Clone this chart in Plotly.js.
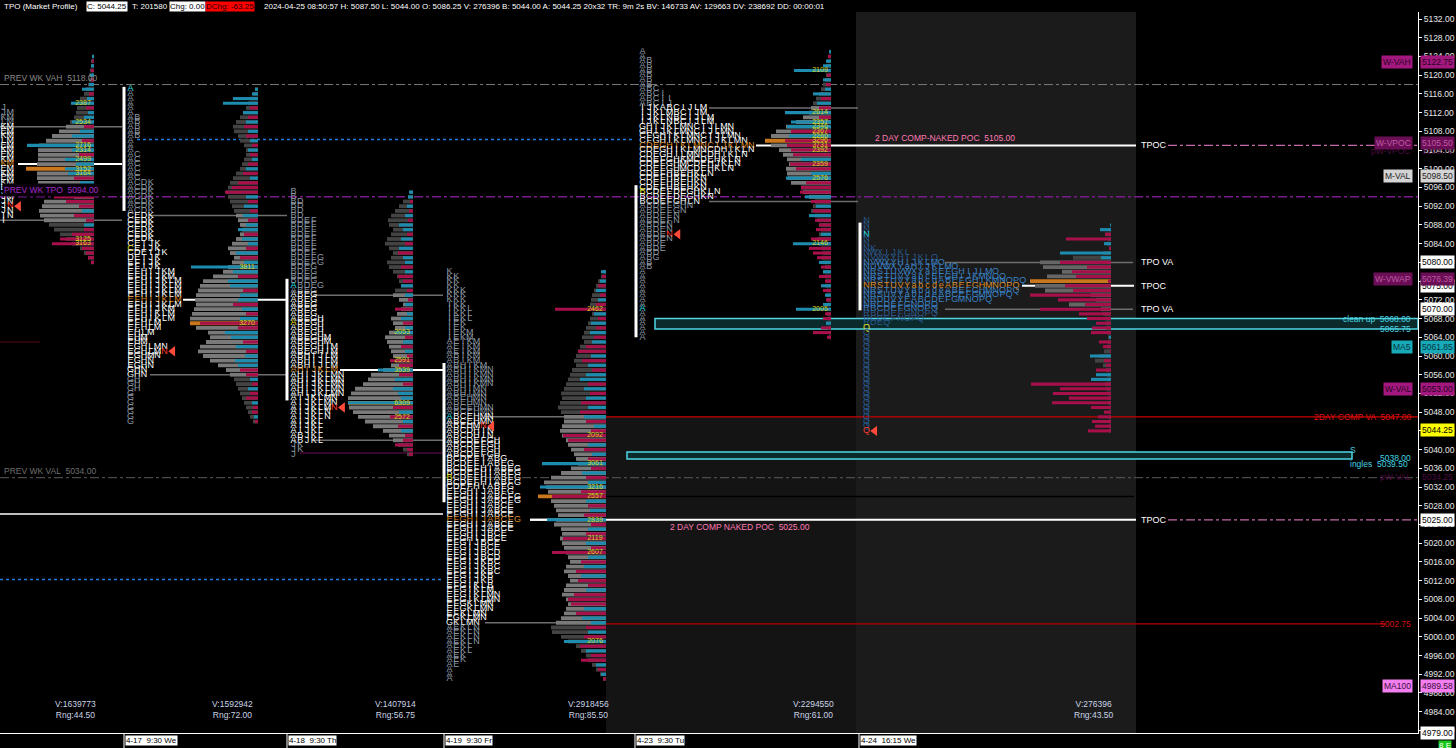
<!DOCTYPE html>
<html><head><meta charset="utf-8">
<script src="https://cdn.plot.ly/plotly-3.0.1.min.js"></script>
<style>html,body{margin:0;padding:0;background:#000;overflow:hidden}#chart{width:1456px;height:748px}</style>
</head><body><div id="chart"></div>
<script>
// ---------------- DATA ----------------
const dayNames   = ['4-16','4-17','4-18','4-19','4-23','4-24'];
const dayLabels  = ['4-17  9:30 We','4-18  9:30 Th','4-19  9:30 Fr','4-23  9:30 Tu','4-24  16:15 We'];
const dayVolume  = [1639773,1592942,1407914,2918456,2294550,276396];
const dayRange   = [44.50,72.00,56.75,85.50,61.00,43.50];

const tpoTop  = [5113,5117,5095,5078,5125,5089];
const vaHigh  = [5109,5090,5073,5047,5113,5080];
const vaLow   = [5089,5056,5042,5003,5093,5070];
const tpoPoc  = [5101,5072,5057,5025,5105,5075];
const ibHigh  = [null,5117.5,5076.5,5058.5,5096.5,5088.5];
const ibLow   = [null,5091,5050.5,5028.75,5064,5069.75];
const closePx = [5092,5061,5049,5045,5086,5044];

// 4-16: only the right-hand tail of each row is inside the chart
const tpo0 = ['J','JM','KM','LM','KM','EM','KM','LM','EM','KM','EM','KM','KM','EM','KM','EM','KM','EM','JM','JM','JN','JN','JN','IN','I'];
const tpo1 = ['A','A','A','A','A','A','AB','AB','AB','AB','AB','A','A','A','AC','AC','AC','AC','AC','AC','ACDK','ACDK','ACDK','ACDK','ACDK','ACDK','ACDK',
 'CEDK','CEDK','CEDK','CEDK','CEDK','CEDK','CEIJK','CEIJK','CDEIJK','DEIJK','EFIJK','EFIJK','EFHIJKM','EFHIJKM','EFHIJKLM','EFHIJKLM','EFHIJKLM','EFHIJKLM','EFHIJKLM','EFHIJKLM','EFHIJKM','EFHIKLM','EFHIKLM','EFHLM','EFHLM','EHLM','EHM','EHM','EGHLMN','EGHLMN','EGHMN','EGHN','EGHN','GHN','GHN','GH','GH','GH','G','G','G','G','G','G','G'];
const tpo2 = ['B','B','BD','BD','BD','BD','BDEF','BDEF','BDEF','BDEF','BDEF','BDEF','BDEF','BDEF','BDEFG','BDEFG','BDEG','BDEG','BDEG','BDEG','ABDEG','ABEG','ABEG','ABEG','ABEG','ABEG','ABEG','ABEGH','ABEGH','ABEGH','ABEGH','ABEGHM','ABEGHM','ABEGHIM','ABEGHIM','ABHIJLM','ABHIJLM','ABHIJLM','AHIJKLM','AHIJKLMN','AHIJKLMN','AHIJKLMN','AHIJKLMN','AHIJKLMN','AIJKLMN','AIJKLMN','AIJKLMN','AIJKLN','AIJKLN','AIJKL','AIJKL','AIJKL','ABJKL','ABJKL','JK','JK','J'];
const tpo3 = ['K','KK','KK','KK','KKK','KKK','KKK','IKK','IKKL','IKKL','IEKL','IEK','IEK','IEKM','IEKM','AEIKM','AEIKM','AEIKM','ABIKM','ABIKM','ABHIKM','ABHIKMN','ABHIKMN','ABHIKMN','ABHIKMN','ABHIMN','ABHIMN','ABEHMN','ABEHMN','ABCEHMN','ABCEHMN','ABCEHMN','ABCEHMN','ABEHMN','ABCDHIN','ABCDHIN','ABCDEFGH','ABCDEFGH','ABCDEFGH','ABCDEFGH',
 'BCDEFIABG','BCDEFIABEG','BCDEFHIABEG','BCDEFHIABEG','BCDEFHIABFG','BCDEFHIABFG','CDEFHIABFG','EFGHIJABFG','EFGHIJABCFG','EFGHIJABCFG','EFGHIJABCE','EFGHIJABCE','EFGHIJABCE','EFGHIJABCFG','EFGHIJABCE','EFGHIJABCE','EFGHIJBCE','EFGHIJBCE','EFGIJBCE','EFGIJBCE','EFGIJBCD','EFGIJBCD','EFGIJKBC','EFGIJKBC','EFGIJKBC','EFGIJKB','EFGIJKB','EFGIKLB','EFGIKLM','EFGIKLMN','EFGIKLMN','EFGKLMN','EFGKLMN','EFKLMN','EGKLMN','GKLMN',
 'AEKLN','AEKLN','AEKLN','AEKLN','AEKL','AEKL','AEK','AEK','AE','A','A','A'];
const tpo4 = ['A','A','AB','AB','AB','AB','AB','AB','ABC','ABCI','ABCII','ABCIJ','IJKABCIJLM','IJKLMBCIJM','IJKLNBCIJLM','IJKLNBCIJLM','GHIJKLMNCIJLMN','GHIJKLMNCIJLMN','CFGHIKLMNCIJLMN','CFGHIKLMNCIJKLMN','CDEGHIKLMNCIJKLMN','CDEGHIKLMNCDHIKLN','CDEGHILMNCDHIKLN','CDEFGHKMCDEHKLN','CDEFGHMCDEHJKLN','CDEFGHMCDEHKLN','CDEFHBEHKLN','CDEFHBEHKN','CDEFHBEHKN','CDEFHBEHKN','BCDEFDEGHKLN','BCDEFDEGHKN',
 'BCDEFGHLN','ABDEFGHN','ABDEFGN','ABDEFN','ABDEFN','ABDEN','ABDEN','ABDEN','ABDEN','ABDE','ABDE','ABD','ABG','AB','AB',
 'A','A','A','A','A','A','A','A','A','A','A','A','A','A','A'];
const tpo5 = ['N','N','N','N','N','N','NK','NWXIJKL','NVWXYHIJKLO','NVWXYHIJKLMO','NUVWXYaHIJKLMO','NRSTUVWXYabEFGHIJLMO','NRSTUVYabcEFGHIJKMNOQ','NRSTUVYabcdABEFGHIKMNOPQ','NRSTUVYabcdeABEFGHMNOPQ','NRSTUVYabcdeABEFGHMNOPQ','NRSUVYabcdeABCEFGMNOPQ','NRDUVYEABCDEFGMNOPQ','NRCDEFGNOPQ','RBCDEFGNOPQ','RBCDEFGNOPQ','RCDEFNOPQ','RDEQ','Q',
 'Q','Q','Q','Q','Q','Q','Q','Q','Q','Q','Q','Q','Q','Q','Q','Q','Q','Q','Q','Q','Q','Q'];
const tpoRows = [tpo0,tpo1,tpo2,tpo3,tpo4,tpo5];
// special letters: [day, price, column, kind]
const tpoMarks = [[0,5092,1,'close'],[1,5117,0,'open'],[1,5083,0,'ib'],[1,5061,5,'close'],[2,5075,0,'open'],[2,5067,0,'ib'],[2,5049,6,'close'],[3,5047,0,'open'],[3,5034,0,'ib'],[3,5045,5,'close'],[4,5070,0,'open'],[4,5095,0,'ib'],[4,5086,4,'close'],[5,5086,0,'open'],[5,5066,0,'ib'],[5,5044,0,'close']];

const volTop = [5124,5117,5095,5078,5125,5088];
const volPoc = [5100,5067,5050,5030,5106,5076];
const volTotal0 = [2,3,3,4,5,5,6,8,10,14,15,17,18,20,24,28,35,42,48,55,56,56,56,57,68,57,57,56,55,50,20,50,52,55,54,50,45,40,34,28,22,14,10,6,3];
const volDelta0 = [2,-2,3,-3,4,-3,5,12,-5,7,23,-8,6,10,22,-10,14,22,-12,67,22,-15,29,18,29,26,-20,14,-18,-25,-40,-28,-15,12,-20,-8,10,-10,-22,-34,-42,-12,-8,-6,-3];
const volTotal1 = [3,5,8,10,12,15,18,22,25,24,20,18,14,12,12,14,16,18,22,25,28,30,32,30,28,26,24,22,20,18,16,18,22,26,30,28,24,26,30,35,45,55,58,60,62,63,62,64,66,68,68,62,50,48,52,58,60,55,48,40,32,28,24,22,20,18,16,14,12,10,8,5];
const volDelta1 = [3,6,25,35,-8,15,-10,12,-14,10,-12,8,-6,10,-8,6,-10,12,-15,8,-20,-26,-33,12,-10,14,-8,15,-10,12,20,-14,16,10,-12,22,-18,14,67,25,-20,30,28,-15,18,20,-25,16,-12,18,-58,-20,33,27,-15,22,-12,13,23,20,-18,-12,8,-6,10,-8,-12,6,-5,-6,4,-3];
const volTotal2 = [3,5,10,14,18,22,25,24,20,22,26,28,24,20,22,26,24,20,16,14,12,18,20,14,10,12,16,22,20,18,24,28,26,24,22,20,18,22,30,42,45,50,58,62,65,65,64,60,55,48,40,30,24,20,15,10,6];
const volDelta2 = [4,5,-3,6,-4,8,-5,14,10,-6,12,-8,14,-15,10,8,-12,8,-15,-10,12,-6,8,-5,8,-18,6,12,-10,8,18,-8,10,-12,8,-6,-23,-14,35,-14,18,-10,20,15,12,65,-20,14,-23,10,-15,12,-8,-10,-18,-6,-4];
const volTotal3 = [3,5,8,10,12,14,15,16,15,14,16,18,20,22,24,22,26,28,30,32,30,34,36,38,40,42,45,44,46,48,45,42,42,44,46,44,40,38,35,32,30,28,35,45,55,62,60,58,68,55,52,50,48,50,52,45,44,46,44,42,40,38,36,40,42,38,36,40,42,44,40,38,40,42,45,50,55,54,45,38,30,25,20,18,14,10,6,3];
const volDelta3 = [5,-4,6,-8,10,-6,8,-10,-51,12,-8,15,-10,16,-12,14,-20,-28,15,-24,18,-14,20,26,-18,22,-16,20,-25,18,-26,22,-20,12,-15,-43,-38,18,-22,14,-18,64,-15,24,-20,18,66,-25,-54,20,-18,16,-22,59,-15,18,-20,-43,20,-15,-54,18,-25,22,-30,25,-28,-18,20,-32,-38,-35,22,-30,24,15,-20,18,-22,42,-26,20,-15,-25,10,-8,5,-3];
const volTotal4 = [2,3,4,5,6,5,6,8,10,12,15,18,20,22,28,35,45,55,60,66,60,52,48,44,42,45,44,43,40,30,28,22,16,18,20,16,14,12,10,12,14,12,10,8,10,8,6,8,6,5,6,4,5,4,4,3,4,3,5,3,2,2];
const volDelta4 = [2,-3,5,8,37,-4,8,-5,6,18,-10,14,-12,46,-12,40,44,-40,42,-46,-44,-40,-38,30,-41,-35,20,45,-25,-30,-31,26,-20,15,-18,22,-16,-12,-15,10,-20,38,-22,-18,-14,12,-10,8,-12,-6,10,-8,6,-5,8,35,-6,-8,5,-10,-18,-4];
const volTotal5 = [0,2,6,3,4,2,8,38,71,68,49,64,81,76,66,20,15,42,10,8,6,5,5,4,3,3,4,7,12,16,8,5,4,4,6,5,4,3,3,2,2,2,2,2,2];
const volDelta5 = [1,11,-6,-45,7,-2,51,10,-51,-24,-39,-35,-3,-46,-38,-81,-53,-26,-71,-32,-24,-15,-19,-20,2,-12,-8,-1,21,-7,-5,-15,15,20,-80,-51,-58,-42,-59,-20,-7,-13,-19,-16,-23];
const volTotals = [volTotal0,volTotal1,volTotal2,volTotal3,volTotal4,volTotal5];
const volDeltas = [volDelta0,volDelta1,volDelta2,volDelta3,volDelta4,volDelta5];

// yellow volume notes: day, price, label
const noteDay   = [0,0,0,0,0,0,0,0,0, 1,1, 2,2,2,2,2, 3,3,3,3,3,3,3,3,3, 4,4,4,4,4,4,4,4,4,4,4,4,4];
const notePrice = [5114,5110,5105,5104,5102,5100,5099,5085,5084, 5079,5067, 5065,5059,5057,5050,5047, 5070,5043,5037,5032,5030,5025,5021,5018,4999, 5121,5112,5110,5109,5108,5107,5106,5105,5104,5101,5098,5084,5070];
const noteText  = ['2387','2534','2716','2314','2499','3152','3164','3125','3163','3811','3270','2053','2591','3539','6309','2572','2462','2092','3061','3216','2557','2839','2119','2607','2076','2109','2614','2357','2346','2367','2260','3296','3731','2392','2359','2576','2146','2005'];

// reference levels
const prevWkVah = 5118.00, prevWkTpo = 5094.00, prevWkVal = 5034.00;
const comp2Va = 5047.00, comp2Low = 5002.75;
const nakedPocHi = 5105.00, nakedPocLo = 5025.00, oldPoc = 5026.25;
const blueLevels = [5106.25, 5012.25];
const cleanUpHi = 5068.00, cleanUpLo = 5065.75;
const singlesHi = 5039.50, singlesLo = 5038.00;
const tagText  = ['W-VAH','W-VPOC','M-VAL','W-VWAP','MA5','W-VAL','MA100'];
const tagPrice = [5122.75,5105.50,5098.50,5076.39,5061.85,5053.00,4989.58];
const boxPrice = [5080.00,5075.00,5070.00,5025.00];
const lastPrice = 5044.25, axisLow = 4979.00;
const faintText = ['pW-VPOC','pW-VAL'];
const faintPrice = [5103.75,5034.25];
const headerParts = ['TPO (Market Profile)','C: 5044.25','T: 201580','Chg: 0.00','DChg: -63.25',
  '2024-04-25 08:50:57 H: 5087.50 L: 5044.00 O: 5086.25 V: 276396 B: 5044.00 A: 5044.25 20x32 TR: 9m 2s BV: 146733 AV: 129663 DV: 238692 DD: 00:00:01'];

// ---------------- LAYOUT / STYLE ----------------
const FONT = "'Liberation Sans',Arial,sans-serif";
const FS = 8.5;
const XMAX = 1418;
const COLW = 6.8;
const POS = {
  tpoX:[0,127,290,446,639,863],
  volEdge:[94,258,413,606,831,1111],
  ibX:[null,124,287,444,636,860],
  statX:[75,232,395,588,813,1093],
  labelX:[125,288,445,636,860],
  header:[3,86,131,169,205,263]
};
const C = {teal:'#1d8cae', magenta:'#a8104c', grayVA:'#7a7a7a', grayOut:'#434343', orange:'#c9771d',
  tpoVA:'#ffffff', tpoOut:'#8d98a4', tpoPoc:'#d98b2b', blueVA:'#3a80c2', blueOut:'#28598c',
  open:'#2fe3f3', ib:'#e8e020', close:'#ff3b30'};
const tagStyle = {'W-VAH':['#a3187e','#2b0322'],'W-VPOC':['#6a0f55','#c058a6'],'M-VAL':['#d4d4d4','#222'],
  'W-VWAP':['#6a0f55','#c058a6'],'MA5':['#18a9b9','#04343a'],'W-VAL':['#a3187e','#2b0322'],'MA100':['#f27ef0','#3b0f3b']};
const headerStyle = [[null,'#ffffff'],['#ffffff','#000000'],[null,'#ffffff'],['#ffffff','#000000'],['#ff0000','#1a0000'],[null,'#ffffff']];

const traces = [];
// volume profiles
for (let d=0; d<6; d++){
  const tot = volTotals[d], del = volDeltas[d];
  const ys = tot.map((_,i)=>volTop[d]-i);
  const gcol = ys.map(p => p===volPoc[d] ? C.orange : (p<=vaHigh[d] && p>=vaLow[d] ? (d===5?'#666':C.grayVA) : C.grayOut));
  traces.push({type:'bar', orientation:'h', y:ys, x:tot.map(w=>-w), base:POS.volEdge[d], width:0.82,
    marker:{color:gcol, line:{width:0}}, hoverinfo:'skip', showlegend:false});
  traces.push({type:'bar', orientation:'h', y:ys, x:del.map(v=>-Math.abs(v)), base:POS.volEdge[d], width:0.66,
    marker:{color:del.map(v=>v>=0?C.teal:C.magenta), line:{width:0}}, hoverinfo:'skip', showlegend:false});
}
// TPO letters
for (let d=0; d<6; d++){
  const xs=[], ys=[], ts=[], cs=[];
  tpoRows[d].forEach((s,i)=>{
    const p = tpoTop[d]-i;
    const inVA = p<=vaHigh[d] && p>=vaLow[d];
    let col = p===tpoPoc[d] ? C.tpoPoc : (d===5 ? (inVA?C.blueVA:C.blueOut) : (inVA?C.tpoVA:C.tpoOut));
    for (let j=0;j<s.length;j++){
      let c = col;
      tpoMarks.forEach(m=>{ if(m[0]===d && m[1]===p && m[2]===j) c = C[m[3]]; });
      xs.push(POS.tpoX[d]+j*COLW+COLW/2); ys.push(p); ts.push(s[j]); cs.push(c);
    }
  });
  traces.push({type:'scatter', mode:'text', x:xs, y:ys, text:ts, textposition:'middle center',
    textfont:{family:FONT, size:9, color:cs}, hoverinfo:'skip', showlegend:false, cliponaxis:true});
}
// close triangles
{
  const xs=[], ys=[];
  for (let d=0; d<6; d++){
    const row = tpoRows[d][tpoTop[d]-closePx[d]];
    xs.push(POS.tpoX[d] + row.length*COLW + 5); ys.push(closePx[d]);
  }
  traces.push({type:'scatter', mode:'markers', x:xs, y:ys, marker:{symbol:'triangle-left', size:9, color:'#ff4a3a'}, hoverinfo:'skip', showlegend:false});
}
// volume notes
traces.push({type:'scatter', mode:'text', x:noteDay.map(d=>POS.volEdge[d]-11), y:notePrice, text:noteText, textposition:'middle center',
  textfont:{family:FONT,size:7,color:'#d6d41e'}, hoverinfo:'skip', showlegend:false});

// ---------------- SHAPES ----------------
const shapes = [];
function rect(x0,x1,y0,y1,fill,line,yref){ shapes.push({type:'rect',xref:'x',yref:yref||'y',x0,x1,y0,y1,fillcolor:fill,line:line||{width:0},layer:'below'}); }
function hline(p,x0,x1,color,width,dash){ shapes.push({type:'line',xref:'x',yref:'y',x0,x1,y0:p,y1:p,line:{color,width,dash:dash||'solid'},layer:'below'}); }
rect(856,1136,0,1,'#1b1b1b',null,'paper');
shapes.push({type:'rect',xref:'x',yref:'y',x0:606,x1:856,y0:4979.45,y1:comp2Va,fillcolor:'#141414',line:{width:0},layer:'below'});
hline(prevWkVah,0,XMAX,'#787878',1,'dashdot');
hline(prevWkTpo,0,XMAX,'#7a1a8c',1.5,'dashdot');
hline(prevWkVal,0,XMAX,'#5c5c5c',1,'dashdot');
hline(blueLevels[0],137,633,'#1f7fe0',1.5,'dot');
hline(blueLevels[1],0,443,'#1f7fe0',1.5,'dot');
hline(comp2Va,606,XMAX,'#cc0000',1.2);
hline(comp2Low,606,1386,'#b80000',1.2);
hline(5030,606,1134,'#000000',1.5);
hline(oldPoc,0,443,'#ffffff',1.5);
hline(nakedPocHi,858,1136,'#ffffff',2);
hline(nakedPocLo,530,1136,'#ffffff',2);
hline(nakedPocHi,1168,XMAX,'#c46aa8',1.2,'dashdot');
hline(nakedPocLo,1168,XMAX,'#c46aa8',1.2,'dashdot');
hline(5063,0,40,'#5a0a18',1);
hline(5039.25,300,443,'#4a0a3a',1.5);
// day value-area / poc extension lines
const vaLineX = [[0,122],[150,287],[313,443],[485,606],[709,858],[945,1133]];
const pocLineX = [[18,122],[183,287],[340,443],[530,606],[756,858],[1022,1134]];
for (let d=0; d<6; d++){
  hline(vaHigh[d],vaLineX[d][0],vaLineX[d][1],'#6e6e6e',1.5);
  hline(vaLow[d],vaLineX[d][0],vaLineX[d][1],'#6e6e6e',1.5);
  hline(tpoPoc[d],pocLineX[d][0],pocLineX[d][1],'#ffffff',2);
}
// cyan zones
rect(655,XMAX,cleanUpLo,cleanUpHi,'#0b2a2c',{color:'#4fd6e2',width:1.5});
rect(627,1352,singlesLo,singlesHi,'#0b2a2c',{color:'#4fd6e2',width:1.5});
// initial balance bars
for (let d=1; d<6; d++) shapes.push({type:'line',xref:'x',yref:'y',x0:POS.ibX[d],x1:POS.ibX[d],y0:ibLow[d],y1:ibHigh[d],line:{color:'#ffffff',width:3},layer:'above'});
// bottom separators
POS.labelX.forEach(x=>shapes.push({type:'line',xref:'x',yref:'paper',x0:x-1,x1:x-1,y0:0,y1:-0.021,line:{color:'#ffffff',width:1}}));

// ---------------- ANNOTATIONS ----------------
const anns = [];
function A(o){ anns.push(Object.assign({showarrow:false,xref:'x',yref:'y',borderpad:1,font:{family:FONT,size:FS,color:'#ffffff'}},o)); }
function f2(v){ return v.toFixed(2); }
A({x:2,y:prevWkVah,xanchor:'left',yanchor:'bottom',text:'PREV WK VAH  '+f2(prevWkVah),font:{family:FONT,size:FS,color:'#8a8a8a'}});
A({x:2,y:prevWkTpo,xanchor:'left',yanchor:'bottom',text:'PREV WK TPO  '+f2(prevWkTpo),bgcolor:'#0a000a',font:{family:FONT,size:FS,color:'#a02cc8'}});
A({x:2,y:prevWkVal,xanchor:'left',yanchor:'bottom',text:'PREV WK VAL  '+f2(prevWkVal),font:{family:FONT,size:FS,color:'#6e6e6e'}});
A({x:873,y:nakedPocHi,xanchor:'left',yanchor:'bottom',text:'2 DAY COMP-NAKED POC  '+f2(nakedPocHi),font:{family:FONT,size:FS,color:'#ff7ab4'}});
A({x:668,y:nakedPocLo,xanchor:'left',yanchor:'top',text:'2 DAY COMP NAKED POC  '+f2(nakedPocLo),font:{family:FONT,size:FS,color:'#ff7ab4'}});
[[nakedPocHi,'TPOC'],[vaHigh[5],'TPO VA'],[tpoPoc[5],'TPOC'],[vaLow[5],'TPO VA'],[nakedPocLo,'TPOC']].forEach(t=>A({x:1139,y:t[0],xanchor:'left',yanchor:'middle',text:t[1],font:{family:FONT,size:9,color:'#ffffff'}}));
// right side texts (left of axis) and price boxes (right of axis)
function RL(p,text,color,extra){ A(Object.assign({xref:'paper',x:1,xshift:-5,xanchor:'right',y:p,yanchor:'middle',text,font:{family:FONT,size:FS,color}},extra||{})); }
function RB(p,text,bg,fg,extra){ A(Object.assign({xref:'paper',x:1,xshift:2,xanchor:'left',y:p,yanchor:'middle',text,bgcolor:bg,font:{family:FONT,size:FS,color:fg}},extra||{})); }
faintText.forEach((t,i)=>{ RL(faintPrice[i],t,'#4d0c40'); RB(faintPrice[i],f2(faintPrice[i]),'rgba(0,0,0,0)','#4d0c40'); });
RL(comp2Va,'2DAY COMP VA  '+f2(comp2Va),'#e01010');
RL(comp2Low,f2(comp2Low),'#d01010');
RL(cleanUpHi,'clean up  '+f2(cleanUpHi),'#45d3e0');
RL(cleanUpLo,f2(cleanUpLo),'#45d3e0');
A({x:1348,y:singlesHi+0.4,xanchor:'left',yanchor:'middle',text:'S',font:{family:FONT,size:FS,color:'#45d3e0'}});
RL(singlesLo+0.2,f2(singlesLo),'#45d3e0');
RL(singlesLo-1.1,'ingles  '+f2(singlesHi),'#45d3e0',{xshift:-8});
boxPrice.forEach(p=>RB(p,f2(p),'#ffffff','#000000'));
RB(lastPrice,f2(lastPrice),'#ffff00','#000000');
tagText.forEach((t,i)=>{ const s=tagStyle[t]; RL(tagPrice[i],t,s[1],{bgcolor:s[0]}); RB(tagPrice[i],f2(tagPrice[i]),s[0],s[1]); });
A({xref:'paper',x:1,xshift:2,xanchor:'left',yref:'paper',y:0,yanchor:'middle',text:f2(axisLow),bgcolor:'#ffffff',font:{family:FONT,size:FS,color:'#000'}});
A({xref:'paper',x:1,xshift:20,xanchor:'left',yref:'paper',y:0,yshift:-7,yanchor:'top',text:'8 E',bgcolor:'#18c818',borderpad:0,font:{family:FONT,size:8,color:'#ffffff'}});
// stats
for (let d=0; d<6; d++) A({x:POS.statX[d],yref:'paper',y:0.033,xanchor:'center',yanchor:'middle',align:'center',
  text:'V:'+dayVolume[d]+'<br>Rng:'+f2(dayRange[d]),font:{family:FONT,size:FS,color:'#c9d3e6'}});
// bottom time labels
dayLabels.forEach((t,i)=>A({x:POS.labelX[i],yref:'paper',y:0,yshift:-2,xanchor:'left',yanchor:'top',text:t,bgcolor:'#ffffff',borderpad:0,font:{family:FONT,size:8,color:'#000'}}));
// header
headerParts.forEach((h,i)=>A({x:POS.header[i],yref:'paper',y:1,yshift:0,xanchor:'left',yanchor:'bottom',text:h,bgcolor:headerStyle[i][0]||'rgba(0,0,0,0)',borderpad:0,font:{family:FONT,size:8,color:headerStyle[i][1]}}));

const layout = {
  width:1456, height:748, margin:{l:0,r:38,t:12,b:15,pad:0},
  paper_bgcolor:'#000000', plot_bgcolor:'#000000', barmode:'overlay', showlegend:false, hovermode:false,
  xaxis:{range:[0,XMAX], showgrid:false, zeroline:false, showticklabels:false, ticks:'', showline:true, linecolor:'#ffffff', linewidth:1, fixedrange:true},
  yaxis:{range:[4979.45,5133.5], side:'right', showgrid:false, zeroline:false, tickmode:'linear', tick0:4984, dtick:4, tickformat:'.2f',
    ticks:'outside', ticklen:3, tickcolor:'#ffffff', showline:true, linecolor:'#ffffff', linewidth:1, fixedrange:true,
    tickfont:{family:FONT,size:FS,color:'#e8e8e8'}},
  shapes, annotations:anns, font:{family:FONT,color:'#fff'}
};
Plotly.newPlot('chart', traces, layout, {staticPlot:true, displayModeBar:false});
</script></body></html>
